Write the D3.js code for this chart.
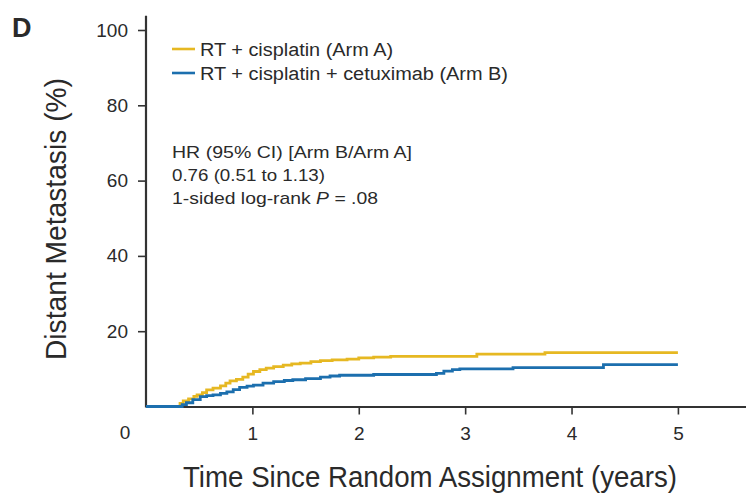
<!DOCTYPE html>
<html>
<head>
<meta charset="utf-8">
<script src="https://cdn.jsdelivr.net/npm/d3@7"></script>
<style>
  html, body { margin: 0; padding: 0; background: #fff; }
  svg { display: block; }
  text { font-family: "Liberation Sans", Arial, sans-serif; fill: #2a2a2a; }
</style>
</head>
<body>
<svg id="chart" width="746" height="495"></svg>
<script>
// ---- Data ----
const timeA  = [0, 0.29, 0.32, 0.35, 0.40, 0.45, 0.48, 0.53, 0.57, 0.63, 0.70, 0.75, 0.79, 0.85, 0.91, 0.96, 1.01, 1.07, 1.13, 1.20, 1.29, 1.37, 1.45, 1.55, 1.64, 1.75, 1.89, 2.00, 2.14, 2.30, 3.11, 3.75, 5.00];
const valueA = [0, 0,    0.8,  1.5,  2.0,  2.7,  3.1,  3.7,  4.4,  4.9,  5.5,  6.2,  6.8,  7.2,  7.8,  8.6,  9.3,  9.8,  10.2, 10.6, 11.0, 11.3, 11.5, 11.9, 12.2, 12.4, 12.6, 12.9, 13.1, 13.3, 13.9, 14.3, 14.3];
const timeB  = [0, 0.29, 0.34, 0.38, 0.44, 0.51, 0.57, 0.63, 0.70, 0.76, 0.82, 0.88, 0.95, 1.01, 1.10, 1.20, 1.30, 1.38, 1.50, 1.64, 1.73, 1.82, 2.14, 2.73, 2.80, 2.88, 2.95, 3.45, 4.30, 5.00];
const valueB = [0, 0,    0.5,  1.0,  1.8,  2.6,  2.9,  3.1,  3.5,  3.9,  4.5,  5.1,  5.4,  5.7,  6.2,  6.6,  6.9,  7.1,  7.4,  7.8,  8.1,  8.3,  8.5,  8.8,  9.4,  9.8,  10.0, 10.3, 11.1, 11.1];
const xTicks = [1, 2, 3, 4, 5];
const yTicks = [20, 40, 60, 80, 100];
const seriesNames = ["RT + cisplatin (Arm A)", "RT + cisplatin + cetuximab (Arm B)"];
const seriesColors = ["#e6b822", "#1c6fae"];
const statsLines = ["HR (95% CI) [Arm B/Arm A]", "0.76 (0.51 to 1.13)", "1-sided log-rank "];
const xTitle = "Time Since Random Assignment (years)";
const yTitle = "Distant Metastasis (%)";
const panelLabel = "D";

// ---- Layout ----
const svg = d3.select("#chart");
const x = d3.scaleLinear().domain([0, 5.64]).range([146, 746]);
const y = d3.scaleLinear().domain([0, 100]).range([406.5, 30]);

// Axes
const axisColor = "#333";
const gx = svg.append("g").attr("transform", `translate(0,${y(0)})`)
  .call(d3.axisBottom(x).tickValues(xTicks).tickSize(8).tickSizeOuter(0).tickPadding(12).tickFormat(d3.format("d")));
gx.select(".domain").attr("stroke", axisColor).attr("stroke-width", 2.2);
gx.selectAll(".tick line").attr("stroke", axisColor).attr("stroke-width", 1.6);
gx.selectAll(".tick text").style("font-size", "19px").attr("fill", "#2a2a2a");

const gy = svg.append("g").attr("transform", `translate(${x(0)},0)`)
  .call(d3.axisLeft(y).tickValues(yTicks).tickSize(8).tickSizeOuter(0).tickPadding(10));
gy.select(".domain").remove();
gy.selectAll(".tick line").attr("stroke", axisColor).attr("stroke-width", 1.6);
gy.selectAll(".tick text").style("font-size", "19px").attr("fill", "#2a2a2a");
svg.append("line")
  .attr("x1", x(0)).attr("x2", x(0))
  .attr("y1", y(0) + 1).attr("y2", y(103.8))
  .attr("stroke", axisColor).attr("stroke-width", 2.2);

// Curves (drawn over the axes, as in the reference)
const seriesData = [
  timeA.map((t, i) => ({t, v: valueA[i]})),
  timeB.map((t, i) => ({t, v: valueB[i]}))
];
const line = d3.line().x(d => x(d.t)).y(d => y(d.v)).curve(d3.curveStepAfter);
seriesData.forEach((d, i) => {
  svg.append("path").datum(d)
    .attr("fill", "none")
    .attr("stroke", seriesColors[i])
    .attr("stroke-width", 2.8)
    .attr("d", line);
});

// Corner "0"
svg.append("text").attr("x", x(0) - 21).attr("y", y(0) + 32)
  .attr("text-anchor", "middle").style("font-size", "19px").text("0");

// Panel label
svg.append("text").attr("x", 12).attr("y", 37)
  .style("font-size", "27px").style("font-weight", "bold").attr("fill", "#111").text(panelLabel);

// Axis titles
svg.append("text").attr("x", 183).attr("y", 487)
  .style("font-family", "'Liberation Sans Narrow','Arial Narrow','Liberation Sans',sans-serif")
  .style("font-size", "30px")
  .attr("textLength", 494).attr("lengthAdjust", "spacingAndGlyphs")
  .text(xTitle);
svg.append("text")
  .attr("transform", "translate(66,360) rotate(-90)")
  .style("font-family", "'Liberation Sans Narrow','Arial Narrow','Liberation Sans',sans-serif")
  .style("font-size", "30px")
  .attr("textLength", 282).attr("lengthAdjust", "spacingAndGlyphs")
  .text(yTitle);

// Legend
const legendY = [49, 73];
const legendW = [193, 308];
seriesNames.forEach((name, i) => {
  svg.append("line").attr("x1", 172).attr("x2", 195)
    .attr("y1", legendY[i]).attr("y2", legendY[i])
    .attr("stroke", seriesColors[i]).attr("stroke-width", 2.6);
  svg.append("text").attr("x", 200).attr("y", legendY[i] + 7)
    .style("font-size", "18px")
    .attr("textLength", legendW[i]).attr("lengthAdjust", "spacingAndGlyphs")
    .text(name);
});

// Stats block
const statsY = [158, 181, 204];
const statsW = [240, 153, 206];
statsLines.forEach((s, i) => {
  const t = svg.append("text").attr("x", 172).attr("y", statsY[i]).style("font-size", "17px");
  if (i < 2) {
    t.attr("textLength", statsW[i]).attr("lengthAdjust", "spacingAndGlyphs").text(s);
  } else {
    t.attr("textLength", statsW[i]).attr("lengthAdjust", "spacingAndGlyphs");
    t.append("tspan").text(s);
    t.append("tspan").style("font-style", "italic").text("P");
    t.append("tspan").text(" = .08");
  }
});
</script>
</body>
</html>
